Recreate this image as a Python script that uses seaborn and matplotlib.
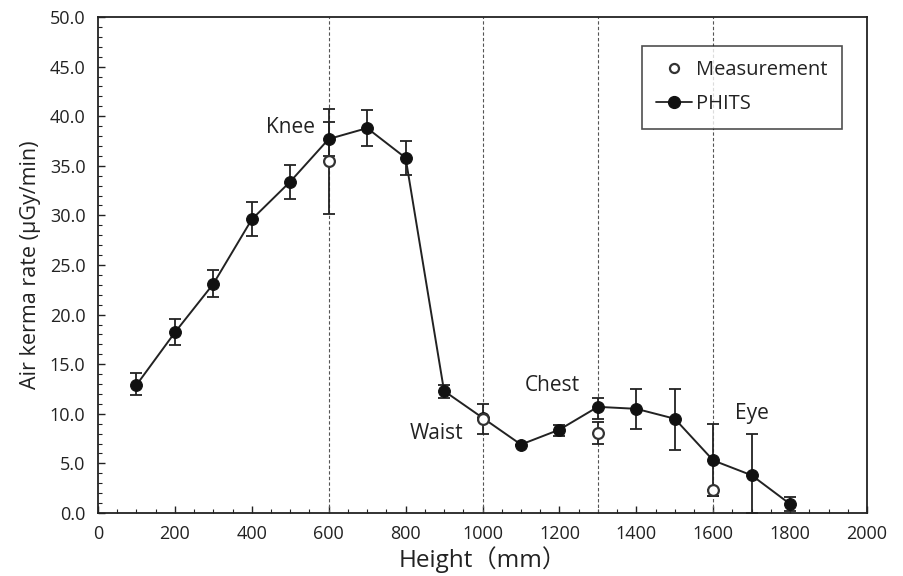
import numpy as np
import pandas as pd
import matplotlib
matplotlib.use("Agg")
import matplotlib.pyplot as plt
from matplotlib.ticker import MultipleLocator
from matplotlib.lines import Line2D
import seaborn as sns

# PHITS data
phits_height = [100, 200, 300, 400, 500, 600, 700, 800, 900, 1000, 1100, 1200, 1300, 1400, 1500, 1600, 1700, 1800]
phits_rate = [12.9, 18.2, 23.1, 29.6, 33.4, 37.7, 38.8, 35.8, 12.3, 9.6, 6.9, 8.4, 10.7, 10.5, 9.5, 5.3, 3.8, 0.9]
phits_err_low = [1.0, 1.3, 1.3, 1.7, 1.7, 1.7, 1.8, 1.7, 0.7, 0.0, 0.0, 0.6, 1.2, 2.0, 3.2, 3.6, 3.8, 0.7]
phits_err_high = [1.2, 1.4, 1.4, 1.8, 1.7, 1.7, 1.8, 1.7, 0.6, 0.0, 0.0, 0.5, 0.9, 2.0, 3.0, 3.7, 4.2, 0.7]

# Measurement data
meas_height = [600, 1000, 1300, 1600]
meas_rate = [35.5, 9.5, 8.1, 2.3]
meas_err_low = [5.4, 1.5, 1.1, 0.6]
meas_err_high = [5.2, 1.5, 1.1, 0.0]

ref_lines = [600, 1000, 1300, 1600]
annotations = [("Knee", 500, 38.9), ("Waist", 880, 8.0), ("Chest", 1182, 12.9), ("Eye", 1700, 10.0)]

sns.set_theme(style="white")
plt.rcParams['font.family'] = ['Open Sans', 'Noto Sans CJK JP', 'DejaVu Sans']

fig = plt.figure(figsize=(9.04, 5.76), dpi=100)
ax = fig.add_axes([0.1084, 0.1094, 0.8507, 0.8611])

for xv in ref_lines:
    ax.axvline(xv, color="#555555", lw=0.8, ls=(0, (3, 2)), zorder=1)

df_p = pd.DataFrame({"h": phits_height, "r": phits_rate})
df_m = pd.DataFrame({"h": meas_height, "r": meas_rate})

ax.errorbar(phits_height, phits_rate, yerr=[phits_err_low, phits_err_high], fmt="none",
            ecolor="#222222", elinewidth=1.3, capsize=4, capthick=1.3, zorder=2)
ax.errorbar(meas_height, meas_rate, yerr=[meas_err_low, meas_err_high], fmt="none",
            ecolor="#222222", elinewidth=1.3, capsize=4, capthick=1.3, zorder=2)
sns.lineplot(data=df_p, x="h", y="r", ax=ax, color="#222222", lw=1.4, marker="o",
             markersize=8.5, markeredgecolor="#111111", markerfacecolor="#111111", zorder=3)
sns.scatterplot(data=df_m, x="h", y="r", ax=ax, s=60, facecolor="white",
                edgecolor="#333333", linewidth=1.6, zorder=4)

for txt, x, y in annotations:
    ax.text(x, y, txt, fontsize=15, color="#222222", ha="center", va="center")

ax.set_xlim(0, 2000)
ax.set_ylim(0, 50)
ax.xaxis.set_major_locator(MultipleLocator(200))
ax.xaxis.set_minor_locator(MultipleLocator(50))
ax.yaxis.set_major_locator(MultipleLocator(5))
ax.yaxis.set_minor_locator(MultipleLocator(1))
ax.yaxis.set_major_formatter(matplotlib.ticker.FormatStrFormatter("%.1f"))
ax.tick_params(which="both", direction="in", color="#222222")
ax.tick_params(which="major", length=5, width=1, labelsize=13, labelcolor="#222222")
ax.tick_params(axis="y", which="major", pad=9)
ax.tick_params(axis="x", which="major", pad=9)
ax.tick_params(which="minor", length=3, width=0.8)
ax.tick_params(axis="x", which="both", bottom=True, top=False)
ax.tick_params(axis="y", which="both", left=True, right=False)
for s in ax.spines.values():
    s.set_color("#222222")
    s.set_linewidth(1.3)

ax.set_xlabel("Height\uff08mm\uff09", fontsize=17.5, color="#222222", labelpad=2)
ax.set_ylabel("Air kerma rate (\u00b5Gy/min)", fontsize=15.5, color="#222222", labelpad=6)

handles = [
    Line2D([], [], ls="none", marker="o", markersize=6.5, markerfacecolor="white",
           markeredgecolor="#333333", markeredgewidth=1.6),
    Line2D([], [], color="#222222", lw=1.3, marker="o", markersize=8.5, markerfacecolor="#111111",
           markeredgecolor="#111111"),
]
leg = ax.legend(handles, ["Measurement", "PHITS"], loc="upper right", bbox_to_anchor=(0.967, 0.941),
                fontsize=14.5, frameon=True, fancybox=False, edgecolor="#222222",
                handlelength=1.8, handletextpad=0.2, labelspacing=0.7, borderpad=0.7,
                borderaxespad=0)
leg.get_frame().set_linewidth(1.2)
for t in leg.get_texts():
    t.set_color("#222222")

fig.savefig("out.png", dpi=100)
